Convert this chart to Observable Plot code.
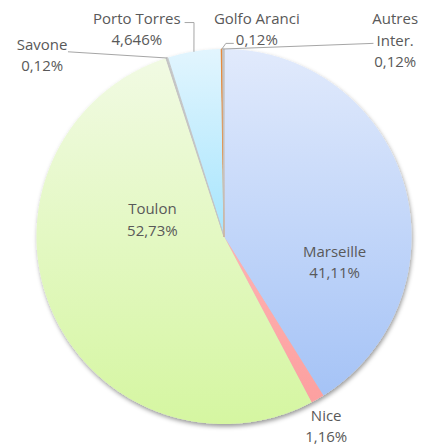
<!DOCTYPE html>
<html><head><meta charset="utf-8">
<script src="https://cdn.jsdelivr.net/npm/d3@7"></script>
<script src="https://cdn.jsdelivr.net/npm/@observablehq/plot@0.6"></script>
<style>html,body{margin:0;padding:0;background:#fff} #chart svg{display:block}</style>
</head><body><div id="chart"></div>
<script>
// ---- data ----
const categories = ["Marseille", "Nice", "Toulon", "Savone", "Porto Torres", "Golfo Aranci", "Autres Inter."];
const shares = [41.11, 1.16, 52.73, 0.12, 4.646, 0.12, 0.12];
const valueLabels = ["41,11%", "1,16%", "52,73%", "0,12%", "4,646%", "0,12%", "0,12%"];
const nameLabels = ["Marseille", "Nice", "Toulon", "Savone", "Porto Torres", "Golfo Aranci", "Autres\nInter."];

// ---- styles ----
const gradients = {
  "Marseille": ["#e1eafc", "#a5c3f6"],
  "Nice": ["#ffb2b2", "#fca0a0"],
  "Toulon": ["#f1fae3", "#d5f6a1"],
  "Porto Torres": ["#e2f5fe", "#a6e5fd"]
};
const solid = {"Savone": "#c4c4c4", "Golfo Aranci": "#e8893a", "Autres Inter.": "#c4c4c4"};
const thin = new Set(["Savone", "Golfo Aranci", "Autres Inter."]);

// label layout (in pie-radius units, relative to pie centre; y up) and leader-line bends
const R = 187.5;
const labelLayout = {
  "Marseille":    {x: 0.59,  y: -0.13},
  "Nice":         {x: 0.545, y: -1.005},
  "Toulon":       {x: -0.382, y: 0.098},
  "Savone":       {x: -0.97, y: 0.975, leader: [[-0.83, 0.985]]},
  "Porto Torres": {x: -0.465, y: 1.112, leader: [[-0.16, 1.141], [-0.208, 1.141]]},
  "Golfo Aranci": {x: 0.175, y: 1.115, leader: [[0.01, 1.03], [0.05, 1.03]]},
  "Autres Inter.":{x: 0.913, y: 1.055, leader: [[0.795, 1.03]]}
};

// ---- geometry from the data ----
const arcs = d3.pie().sort(null).value(d => d).startAngle(0).endAngle(2 * Math.PI)(shares);
const slicePts = [];
arcs.forEach((a, i) => {
  const name = categories[i];
  slicePts.push({name, x: 0, y: 0});
  const n = Math.max(2, Math.ceil((a.endAngle - a.startAngle) / 0.005));
  for (let k = 0; k <= n; k++) {
    const t = a.startAngle + (a.endAngle - a.startAngle) * k / n;
    slicePts.push({name, x: Math.sin(t), y: Math.cos(t)});
  }
});
const labels = categories.map((name, i) => ({
  name,
  text: nameLabels[i] + "\n" + valueLabels[i],
  x: labelLayout[name].x,
  y: labelLayout[name].y
}));
const leaderPts = [];
arcs.forEach((a, i) => {
  const name = categories[i];
  const L = labelLayout[name];
  if (!L.leader) return;
  const mid = (a.startAngle + a.endAngle) / 2;
  leaderPts.push({name, x: Math.sin(mid), y: Math.cos(mid)});
  for (const [lx, ly] of L.leader) leaderPts.push({name, x: lx, y: ly});
});

const colorRange = categories.map((c, i) => solid[c] ? solid[c] : `url(#grad${i})`);
const cx = 223.5, cy = 236, W = 423, H = 445;

const chart = Plot.plot({
  width: W, height: H,
  marginLeft: cx - R, marginRight: W - (cx + R),
  marginTop: cy - R, marginBottom: H - (cy + R),
  x: {domain: [-1, 1], axis: null},
  y: {domain: [-1, 1], axis: null},
  color: {type: "ordinal", domain: categories, range: colorRange},
  style: {fontFamily: "'Open Sans', sans-serif", background: "#fff", overflow: "visible"},
  marks: [
    Plot.line(slicePts, {x: "x", y: "y", z: "name", fill: "name", stroke: "none", curve: "linear-closed", className: "slices"}),
    Plot.line(slicePts.filter(d => thin.has(d.name)), {x: "x", y: "y", z: "name", fill: "name", stroke: "name", strokeWidth: 0.9, curve: "linear-closed"}),
    Plot.line(leaderPts, {x: "x", y: "y", z: "name", stroke: "#a6a6a6", strokeWidth: 1}),
    Plot.text(labels, {x: "x", y: "y", text: "text", fill: "#595959", fontSize: 15, lineHeight: 1.42, textAnchor: "middle"})
  ]
});

// gradient & shadow definitions
const svg = d3.select(chart.tagName.toLowerCase() === "svg" ? chart : chart.querySelector("svg"));
const defs = svg.insert("defs", ":first-child");
categories.forEach((c, i) => {
  if (!gradients[c]) return;
  const g = defs.append("linearGradient").attr("id", `grad${i}`).attr("x1", 0).attr("y1", 0).attr("x2", 0).attr("y2", 1);
  g.append("stop").attr("offset", "0%").attr("stop-color", gradients[c][0]);
  g.append("stop").attr("offset", "100%").attr("stop-color", gradients[c][1]);
});
const f = defs.append("filter").attr("id", "pieShadow").attr("x", "-10%").attr("y", "-10%").attr("width", "120%").attr("height", "120%");
f.append("feDropShadow").attr("dx", 1).attr("dy", 2.5).attr("stdDeviation", 2).attr("flood-color", "#000").attr("flood-opacity", 0.4);
svg.select("g.slices").attr("filter", "url(#pieShadow)");

document.getElementById("chart").appendChild(chart);
</script>
</body></html>
